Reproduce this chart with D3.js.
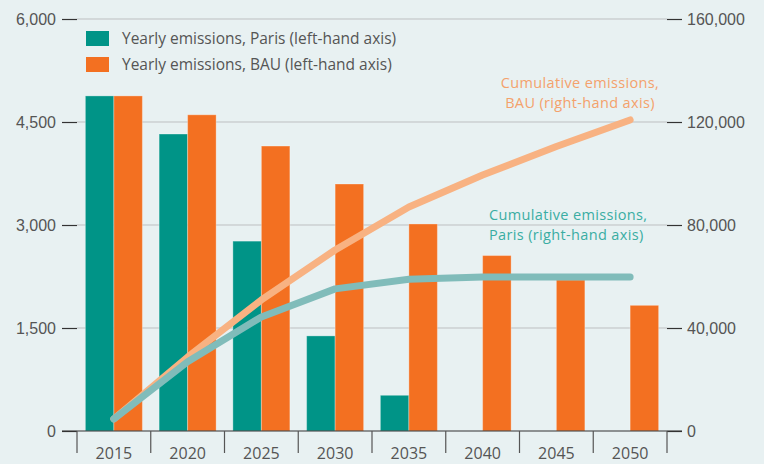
<!DOCTYPE html>
<html>
<head>
<meta charset="utf-8">
<script src="https://cdn.jsdelivr.net/npm/d3@7"></script>
<style>
  html, body { margin: 0; padding: 0; background: #e8f1f2; }
  svg { display: block; font-family: "Open Sans", "Noto Sans", sans-serif; }
</style>
</head>
<body>
<div id="chart"></div>
<script>
// data
const years = ["2015", "2020", "2025", "2030", "2035", "2040", "2045", "2050"];
const parisYearly = [4880, 4325, 2765, 1385, 520, 0, 0, 0];
const bauYearly = [4880, 4605, 4150, 3597, 3015, 2555, 2200, 1830];
const parisCumulative = [4700, 26900, 44300, 55200, 58900, 59800, 59800, 59800];
const bauCumulative = [4700, 28700, 50900, 70300, 87000, 99400, 110500, 120800];
const leftTicks = [0, 1500, 3000, 4500, 6000];
const rightTicks = [0, 40000, 80000, 120000, 160000];
const legendLabels = ["Yearly emissions, Paris (left-hand axis)", "Yearly emissions, BAU (left-hand axis)"];
const bauLabelLines = ["Cumulative emissions,", "BAU (right-hand axis)"];
const parisLabelLines = ["Cumulative emissions,", "Paris (right-hand axis)"];

const width = 764, height = 464;
const teal = "#009487", orange = "#f37021";
const tealLine = "#80bcba", orangeLine = "#f8b282";

const svg = d3.select("#chart").append("svg")
  .attr("width", width)
  .attr("height", height);

svg.append("rect").attr("width", width).attr("height", height).attr("fill", "#e8f1f2");

// scales
const x = d3.scaleBand().domain(years).range([77, 667]);
const yL = d3.scaleLinear().domain([0, 6000]).range([431, 19]);
const yR = d3.scaleLinear().domain([0, 160000]).range([431, 19]);
const barW = 28.5;

// gridlines
svg.append("g").selectAll("line")
  .data(leftTicks.slice(1))
  .join("line")
  .attr("x1", 77).attr("x2", 667)
  .attr("y1", d => yL(d)).attr("y2", d => yL(d))
  .attr("stroke", "#bdbfc1").attr("stroke-width", 1);

// left axis
const axL = svg.append("g")
  .attr("transform", "translate(77,0)")
  .call(d3.axisLeft(yL).tickValues(leftTicks).tickSize(15).tickPadding(6).tickFormat(d3.format(",")));
axL.select(".domain").remove();

// right axis
const axR = svg.append("g")
  .attr("transform", "translate(667,0)")
  .call(d3.axisRight(yR).tickValues(rightTicks).tickSize(15).tickPadding(5).tickFormat(d3.format(",")));
axR.select(".domain").remove();

[axL, axR].forEach(ax => {
  ax.selectAll(".tick line").attr("stroke", "#333").attr("stroke-width", 1.2);
  ax.selectAll("text").attr("fill", "#555").style("font-size", "16px");
});

// bars
const bars = svg.append("g");
bars.selectAll(".paris")
  .data(years.map((yr, i) => ({ yr, v: parisYearly[i] })).filter(d => d.v > 0))
  .join("rect")
  .attr("x", d => x(d.yr) + x.bandwidth() / 2 - barW)
  .attr("y", d => yL(d.v))
  .attr("width", barW)
  .attr("height", d => yL(0) - yL(d.v))
  .attr("fill", teal)
  .attr("stroke", "rgba(255,255,255,0.3)").attr("stroke-width", 1);

bars.selectAll(".bau")
  .data(years.map((yr, i) => ({ yr, v: bauYearly[i] })))
  .join("rect")
  .attr("x", d => x(d.yr) + x.bandwidth() / 2)
  .attr("y", d => yL(d.v))
  .attr("width", barW)
  .attr("height", d => yL(0) - yL(d.v))
  .attr("fill", orange)
  .attr("stroke", "rgba(255,255,255,0.3)").attr("stroke-width", 1);

// bottom axis
const axB = svg.append("g").attr("transform", "translate(0,431)");
axB.append("line").attr("x1", 62).attr("x2", 682).attr("stroke", "#333").attr("stroke-width", 1.2);
axB.selectAll(".sep")
  .data(years.concat(["end"]))
  .join("line")
  .attr("x1", (d, i) => x.range()[0] + i * x.step())
  .attr("x2", (d, i) => x.range()[0] + i * x.step())
  .attr("y1", 0).attr("y2", 22)
  .attr("stroke", "#555").attr("stroke-width", 1.2);
axB.selectAll("text")
  .data(years)
  .join("text")
  .attr("x", d => x(d) + x.bandwidth() / 2)
  .attr("y", 28)
  .attr("text-anchor", "middle")
  .attr("fill", "#555")
  .style("font-size", "16px")
  .text(d => d);

// cumulative lines
const line = d3.line()
  .x(d => x(d.yr) + x.bandwidth() / 2)
  .y(d => yR(d.v));

svg.append("path")
  .datum(years.map((yr, i) => ({ yr, v: bauCumulative[i] })))
  .attr("d", line)
  .attr("fill", "none")
  .attr("stroke", orangeLine)
  .attr("stroke-width", 7)
  .attr("stroke-linecap", "round")
  .attr("stroke-linejoin", "round");

svg.append("path")
  .datum(years.map((yr, i) => ({ yr, v: parisCumulative[i] })))
  .attr("d", line)
  .attr("fill", "none")
  .attr("stroke", tealLine)
  .attr("stroke-width", 7)
  .attr("stroke-linecap", "round")
  .attr("stroke-linejoin", "round");

// line labels, one text per line
svg.append("g").selectAll("text")
  .data(bauLabelLines)
  .join("text")
  .attr("x", 580)
  .attr("y", (d, i) => 88 + i * 19.8)
  .attr("text-anchor", "middle")
  .attr("fill", "#f4a16c")
  .style("font-size", "14.5px")
  .style("letter-spacing", "0.35px")
  .text(d => d);

svg.append("g").selectAll("text")
  .data(parisLabelLines)
  .join("text")
  .attr("x", 489)
  .attr("y", (d, i) => 220 + i * 19.8)
  .attr("fill", "#3aada3")
  .style("font-size", "14.5px")
  .style("letter-spacing", "0.35px")
  .text(d => d);

// legend
const legend = svg.append("g");
legendLabels.forEach((lab, i) => {
  legend.append("rect")
    .attr("x", 86).attr("y", 31 + i * 26)
    .attr("width", 23).attr("height", 15)
    .attr("fill", i === 0 ? teal : orange);
  legend.append("text")
    .attr("x", 122).attr("y", 44 + i * 26)
    .attr("fill", "#555")
    .style("font-size", "15.5px")
    .text(lab);
});
</script>
</body>
</html>
